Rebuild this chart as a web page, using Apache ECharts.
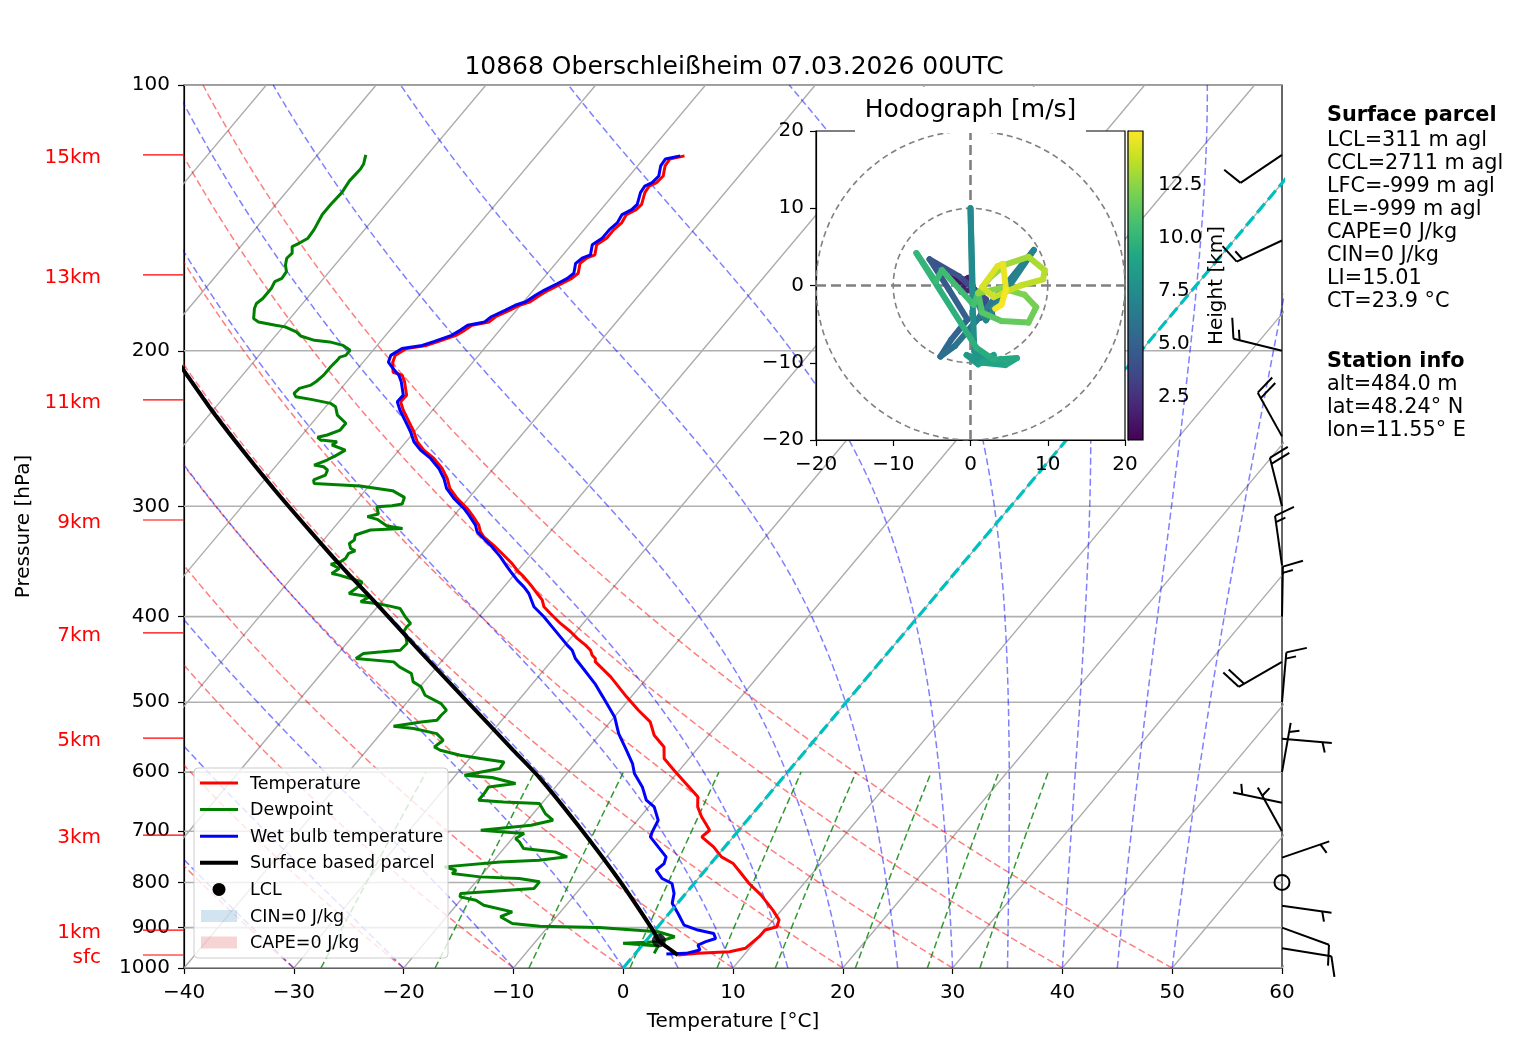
<!DOCTYPE html>
<html><head><meta charset="utf-8">
<script src="https://cdn.jsdelivr.net/npm/echarts@6/dist/echarts.min.js"></script>
<style>html,body{margin:0;padding:0;background:#fff}#c{width:1517px;height:1054px}</style>
</head><body><div id="c"></div>
<script>
// ---------------- data ----------------
const titleText = '10868 Oberschleißheim 07.03.2026 00UTC';
const pressureTicks = [100,200,300,400,500,600,700,800,900,1000];
const tempTicks = [-40,-30,-20,-10,0,10,20,30,40,50,60];

const tempP = [120.3,121.3,123.5,126.8,129.0,130.2,132.4,136.5,138.4,140.2,143.3,145.8,149.0,151.7,155.7,157.1,159.2,163.4,165.6,167.8,170.7,172.9,176.0,177.6,179.9,183.0,185.5,187.1,189.6,192.1,195.1,197.2,198.8,202.4,206.0,211.5,213.1,216.8,224.5,228.4,233.4,240.6,247.0,253.5,259.1,264.8,271.8,279.0,286.3,293.9,301.7,307.0,315.1,320.7,324.9,332.1,340.8,348.3,354.4,360.6,370.1,376.6,383.2,389.9,396.8,407.2,416.1,423.4,430.9,436.6,442.3,446.2,449.8,468.1,493.1,510.6,526.4,545.0,561.9,579.2,597.1,618.2,640.0,657.0,674.4,686.2,698.2,710.4,729.2,748.4,761.6,781.7,802.3,826.9,860.0,882.1,898.1,905.8,921.6,933.6,950.0,958.3,962.5,966.7];
const tempT = [-56.5,-57.6,-57.5,-56.9,-57.0,-57.4,-57.3,-56.7,-56.8,-57.3,-57.1,-57.3,-57.3,-57.7,-57.1,-57.6,-57.8,-57.2,-57.4,-57.9,-58.6,-59.0,-59.4,-60.1,-60.6,-61.4,-61.6,-62.9,-63.2,-63.6,-64.7,-65.5,-67.1,-67.6,-67.3,-66.5,-65.45,-64.73,-63.52,-63.56,-62.69,-61.28,-60.06,-58.99,-57.75,-56.19,-54.68,-53.45,-52.45,-51.02,-49.34,-48.37,-47.01,-46.34,-45.66,-44.11,-42.43,-41.04,-40.07,-38.95,-37.43,-36.46,-35.49,-34.83,-33.73,-32.05,-30.49,-29.38,-28.11,-27.27,-26.74,-26.19,-25.97,-23.39,-20.42,-18.32,-16.35,-14.97,-13.18,-12.28,-10.49,-8.39,-6.29,-5.53,-4.40,-3.53,-2.66,-2.87,-1.03,0.45,2.04,3.53,5.01,6.99,9.21,10.52,10.85,10.02,9.99,9.83,9.62,8.44,5.69,4.01];

const dewP = [120.0,122.9,124.5,128.4,132.4,136.5,140.2,145.8,149.1,151.0,152.4,155.0,157.1,159.9,162.7,165.6,167.0,169.9,174.5,176.8,179.1,183.9,185.5,187.1,187.9,190.4,192.4,194.6,195.4,197.2,199.7,202.4,203.3,204.9,208.5,213.1,216.8,218.7,220.6,223.5,225.4,227.0,229.4,231.4,236.5,241.6,245.9,249.1,250.6,252.4,253.5,255.7,259.1,262.5,265.9,269.4,270.6,272.9,276.5,280.1,282.6,284.5,288.0,293.1,298.2,299.5,300.3,306.1,308.2,310.4,315.8,317.8,319.1,323.3,327.6,330.5,334.8,336.9,339.2,343.7,346.7,348.8,352.8,357.5,359.0,362.2,365.3,368.5,376.6,379.9,384.9,386.5,389.2,391.6,400.2,407.2,410.8,416.1,421.7,429.0,436.6,438.5,440.4,446.2,450.1,456.0,464.0,474.2,480.4,491.0,501.8,510.6,517.3,524.1,526.4,532.4,535.6,542.7,552.2,561.9,566.8,574.2,579.2,584.3,594.5,604.9,608.6,618.2,623.6,634.5,645.6,648.5,651.3,668.5,680.2,689.1,698.2,704.3,713.5,719.7,732.4,738.8,748.4,755.0,758.3,768.2,774.9,781.7,788.5,791.9,798.8,812.8,823.5,830.7,837.9,848.9,863.8,874.9,890.4,896.6,899.6,909.7,921.6,933.6,937.7,944.2,962.5];
const dewT = [-85.6,-85.1,-85.0,-85.1,-84.9,-85.0,-85.0,-84.6,-84.5,-84.9,-85.3,-84.8,-84.9,-84.5,-83.9,-83.8,-84.2,-84.0,-84.0,-84.2,-84.0,-83.3,-82.6,-80.8,-79.8,-78.4,-77.7,-76.1,-74.6,-73.1,-72.1,-72.1,-72.5,-72.5,-72.6,-72.6,-72.8,-73.0,-73.8,-73.9,-73.5,-71.9,-69.8,-69.1,-68.3,-66.9,-66.9,-67.7,-68.4,-67.9,-66.3,-66.5,-64.9,-65.3,-65.8,-66.6,-65.6,-65.0,-64.8,-65.5,-65.2,-60.8,-57.5,-55.9,-55.6,-56.4,-57.7,-57.0,-57.8,-56.7,-55.3,-53.7,-56.5,-57.5,-57.2,-57.4,-56.9,-56.3,-56.7,-56.6,-56.8,-57.5,-56.4,-56.7,-55.9,-54.6,-53.3,-53.2,-53.6,-51.5,-51.9,-50.3,-48.9,-47.8,-46.7,-45.7,-45.8,-45.7,-45.1,-44.5,-44.6,-46.1,-47.7,-48.0,-44.3,-43.4,-41.8,-41.0,-39.9,-38.9,-36.8,-35.8,-35.9,-35.9,-37.2,-39.4,-37.4,-34.9,-33.8,-34.1,-33.3,-31.1,-29.0,-26.6,-26.5,-29.2,-26.5,-23.9,-26.1,-26.0,-26.0,-23.6,-20.2,-18.9,-17.7,-19.3,-23.5,-19.3,-19.7,-19.1,-18.2,-15.1,-13.6,-15.9,-19.3,-24.0,-22.7,-22.8,-20.0,-16.3,-14.2,-14.2,-20.5,-20.3,-18.6,-17.5,-14.4,-15.1,-13.5,-10.8,-5.3,0.4,2.3,1.2,-1.9,1.5,1.7];

const wbP = [120.3,121.3,123.5,126.8,129.0,130.2,132.4,136.5,138.4,140.2,143.3,145.8,149.0,151.7,155.7,157.1,159.2,163.4,165.6,167.8,170.7,172.9,176.0,177.6,179.9,183.0,185.5,187.1,189.6,192.1,195.1,197.2,198.8,202.4,206.0,209.4,213.1,216.8,224.5,228.4,233.4,240.6,247.0,253.5,259.1,264.8,271.8,279.0,286.3,293.9,301.7,307.0,315.1,320.7,324.9,333.5,342.3,351.3,357.5,363.7,370.1,376.6,389.9,400.2,410.8,421.7,430.9,436.6,446.2,457.9,476.3,493.1,519.6,542.7,566.8,586.8,602.3,623.6,645.6,657.0,680.2,701.2,710.4,729.2,748.4,761.6,774.9,791.9,802.3,823.5,844.9,867.6,894.1,905.8,913.8,925.9,933.6,941.8,954.2,962.5,964.1];
const wbT = [-56.9,-58.0,-57.9,-57.3,-57.4,-57.8,-57.7,-57.1,-57.2,-57.7,-57.5,-57.7,-57.7,-58.1,-57.5,-58.0,-58.2,-57.6,-57.8,-58.3,-59.0,-59.4,-59.8,-60.5,-61.0,-61.8,-62.0,-63.3,-63.6,-64.0,-65.1,-65.9,-67.5,-68.0,-67.7,-66.8,-65.75,-65.03,-63.82,-63.86,-62.99,-61.58,-60.36,-59.29,-58.05,-56.49,-54.98,-53.75,-52.75,-51.32,-49.64,-48.67,-47.31,-46.64,-45.81,-44.13,-42.61,-41.23,-40.27,-39.30,-38.18,-37.22,-35.74,-34.07,-32.55,-31.03,-29.78,-28.94,-28.01,-26.54,-24.32,-22.58,-19.97,-18.33,-16.34,-14.78,-13.84,-12.10,-10.72,-9.49,-8.11,-7.76,-7.55,-6.07,-4.59,-4.26,-4.47,-3.29,-2.01,-1.06,-0.48,0.83,2.26,3.90,5.60,6.16,5.51,5.05,5.61,4.61,2.86];

const parcelP = [202.0,213.1,233.4,259.1,287.5,320.7,351.3,383.1,436.6,497.3,566.8,607.5,692.0,795.0,905.8,931.0,966.7];
const parcelT = [-87.9,-85.05,-80.15,-74.28,-68.28,-61.79,-56.3,-50.9,-42.9,-34.8,-26.65,-22.3,-14.8,-7.1,-0.2,1.15,4.0];
const lclP = 931.0, lclT = 1.15;

const heightLabels = ['15km','13km','11km','9km','7km','5km','3km','1km','sfc'];
const heightP = [120.0,164.1,227.3,310.9,417.4,549.0,707.0,905.8,966.7];

const barbP   = [120,150,200,250,300,350,400,450,500,550,600,650,700,750,800,850,900,950];
const barbDir = [236,245,284,331,346,352,1,240,5,95,10,282,331,71,0,98,110,99];
const barbSpd = [10,15,15,20,20,15,15,20,15,5,5,5,5,5,0,5,10,10];

const hodoU = [-1.0,-2.6,-1.8,-0.3,-1.2,0.5,1.5,2.8,1.2,2.0,-1.5,-5.3,-2.8,-0.4,-2.5,-3.9,-2.0,0.8,4.5,8.2,2.0,0.3,0.0,0.2,0.5,2.0,-0.5,1.0,3.0,1.5,4.5,6.0,3.0,0.8,-7.0,-4.5,-3.7,0.4,1.0,1.5,4.0,7.5,8.5,7.0,4.0,1.0,2.5,4.5,7.5,9.6,9.4,6.5,3.0,1.5,3.5,4.2,4.6,4.0,3.2];
const hodoV = [0.8,1.4,0.2,1.0,-0.8,-0.5,-2.5,-3.8,-4.2,-1.8,1.2,3.4,-0.5,-4.4,-7.0,-9.2,-7.8,-4.5,0.0,4.6,-4.5,-1.0,10.0,0.0,-8.5,-9.8,-9.0,-10.2,-9.0,-10.0,-10.3,-9.4,-9.6,-8.1,4.2,0.5,2.0,-2.5,-1.0,-3.5,-4.6,-4.8,-2.8,-1.2,-0.3,-1.0,1.0,2.7,3.7,2.0,0.8,0.0,-1.5,-0.2,2.5,2.8,-0.5,-2.5,-3.0];
const hodoH = [0.48,0.8,1.1,1.4,1.8,2.1,2.5,2.9,3.3,3.6,4.0,4.3,4.7,5.0,5.3,5.6,5.9,6.2,6.5,6.8,7.0,7.1,7.3,7.5,7.8,8.0,8.2,8.4,8.6,8.8,9.0,9.2,9.4,9.6,9.9,10.2,10.4,10.6,10.8,11.1,11.4,11.7,11.9,12.1,12.3,12.5,12.7,12.9,13.1,13.3,13.5,13.7,13.9,14.1,14.3,14.5,14.7,14.9,15.0];
const cbarMin = 0.48, cbarMax = 15.05;
const cbarTicks = [2.5,5.0,7.5,10.0,12.5];

const infoLines = ['Surface parcel','LCL=311 m agl','CCL=2711 m agl','LFC=-999 m agl','EL=-999 m agl','CAPE=0 J/kg','CIN=0 J/kg','LI=15.01','CT=23.9 °C','Station info','alt=484.0 m','lat=48.24° N','lon=11.55° E'];
const infoBold = [true,false,false,false,false,false,false,false,false,true,false,false,false];
const infoY = [116,141,164,187,210,233,256,279,302,362,385,408,431];
const legendLabels = ['Temperature','Dewpoint','Wet bulb temperature','Surface based parcel','LCL','CIN=0 J/kg','CAPE=0 J/kg'];

// background thermodynamic reference lines (standard skew-T families)
const dryT0 = [-40,-30,-20,-10,0,10,20,30,40,50];
const moistT0 = [-40,-30,-20,-10,0,5,10,15,20,25,30,35,40,45,50];
const mixRatios = [0.0004,0.001,0.002,0.004,0.007,0.01,0.016,0.024,0.032];

// ---------------- construction ----------------
const SKEW = 67.5;
const FONT = '"DejaVu Sans", "Liberation Sans", sans-serif';
const lg = Math.log10;
const sk = (T, p) => [T + SKEW * (3 - lg(p)), lg(p)];
const minus = v => (v < 0 ? '\u2212' + Math.abs(v) : String(v));
const pairs = (P, T) => { const n = Math.min(P.length, T.length), o = []; for (let i = 0; i < n; i++) o.push(sk(T[i], P[i])); return o; };

const series = [];
function addLine(pts, color, width, dash, z) {
  series.push({ type: 'line', xAxisIndex: 0, yAxisIndex: 0, data: pts, showSymbol: false, symbol: 'none',
    silent: true, clip: true, z: z, animation: false, lineStyle: { color: color, width: width, type: dash || 'solid', cap: 'butt' } });
}
const pGrid = []; for (let i = 0; i <= 90; i++) pGrid.push(1000 * Math.pow(10, -i / 90));

pressureTicks.forEach(p => addLine([[-40, lg(p)], [60, lg(p)]], '#b0b0b0', 1.6, 'solid', 1));
for (let T = -110; T <= 60; T += 10) addLine([sk(T, 1000), sk(T, 100)], '#ababab', 1.3, 'solid', 1);
dryT0.forEach(t0 => addLine(pGrid.map(p => sk((t0 + 273.15) * Math.pow(p / 1000, 0.2857) - 273.15, p)), 'rgba(255,0,0,0.5)', 1.5, [7, 3.5], 1));
function moist(t0) {
  const Rd = 287.04749, Cp = 1004.6662, Lv = 2.50084e6, eps = 0.6219569;
  const es = T => 6.112 * Math.exp(17.67 * (T - 273.15) / (T - 29.65));
  const g = (l, T) => { const p = Math.exp(l), e = es(T), rs = eps * e / (p - e); return (Rd * T + Lv * rs) / (Cp + Lv * Lv * rs * eps / (Rd * T * T)); };
  const n = 150, l0 = Math.log(1000), l1 = Math.log(100), h = (l1 - l0) / n;
  let T = t0 + 273.15, l = l0; const out = [sk(t0, 1000)];
  for (let i = 0; i < n; i++) {
    const k1 = g(l, T), k2 = g(l + h / 2, T + h * k1 / 2), k3 = g(l + h / 2, T + h * k2 / 2), k4 = g(l + h, T + h * k3);
    T += h * (k1 + 2 * k2 + 2 * k3 + k4) / 6; l += h;
    out.push(sk(T - 273.15, Math.exp(l)));
  }
  return out;
}
moistT0.forEach(t0 => addLine(moist(t0), 'rgba(0,0,255,0.5)', 1.5, [7, 3.5], 1));
mixRatios.forEach(w => {
  const pts = [];
  for (let i = 0; i <= 20; i++) {
    const p = 1000 - i * 20, e = p * w / (0.6219569 + w), a = Math.log(e / 6.112);
    pts.push(sk(243.5 * a / (17.67 - a), p));
  }
  addLine(pts, 'rgba(0,128,0,0.8)', 1.5, [7, 3.5], 1);
});

addLine(pairs(tempP, tempT), '#ff0000', 3, 'solid', 3);
addLine(pairs(dewP, dewT), '#008000', 3, 'solid', 3);
addLine(pairs(wbP, wbT), '#0000ff', 3, 'solid', 3);
addLine([sk(0, 1000), sk(0, 100)], '#00bfbf', 3.2, [12, 5], 4);
series.push({ type: 'line', xAxisIndex: 0, yAxisIndex: 0, data: pairs(parcelP, parcelT), showSymbol: false, symbol: 'none',
  silent: true, clip: true, z: 5, animation: false, smooth: 0.2, lineStyle: { color: '#000', width: 4 } });
series.push({ type: 'scatter', xAxisIndex: 0, yAxisIndex: 0, data: [sk(lclT, lclP)], symbol: 'circle', symbolSize: 14,
  itemStyle: { color: '#000' }, z: 6, silent: true, animation: false });

series.push({ type: 'custom', xAxisIndex: 0, yAxisIndex: 0, clip: false, silent: true, animation: false, z: 6,
  data: heightP.map(p => [-40, lg(p)]),
  renderItem: (params, api) => {
    const pt = api.coord([api.value(0), api.value(1)]);
    return { type: 'group', children: [
      { type: 'line', shape: { x1: pt[0] - 41, y1: pt[1], x2: pt[0], y2: pt[1] }, style: { stroke: '#ff0000', lineWidth: 1.2 } },
      { type: 'text', style: { text: heightLabels[params.dataIndex], x: pt[0] - 83, y: pt[1] + 3, align: 'right', verticalAlign: 'middle',
        fill: '#ff0000', fontSize: 20, fontFamily: FONT } }
    ] };
  } });

series.push({ type: 'custom', xAxisIndex: 0, yAxisIndex: 0, clip: false, silent: true, animation: false, z: 6,
  data: barbP.map((p, i) => [lg(p), barbDir[i], barbSpd[i]]),
  renderItem: (params, api) => {
    const b = api.coord([60, api.value(0)]), dir = api.value(1), spd = api.value(2);
    const L = 50, sp = 0.125 * L, fh = 0.4 * L, fw = 0.25 * L;
    const st = { stroke: '#000', lineWidth: 2, fill: null };
    if (spd < 2.5) return { type: 'circle', shape: { cx: b[0], cy: b[1], r: 0.15 * L }, style: { stroke: '#000', lineWidth: 2, fill: 'rgba(0,0,0,0)' } };
    const rad = dir * Math.PI / 180, sx = Math.sin(rad), sy = -Math.cos(rad), rx = -sy, ry = sx;
    const P = d => [b[0] + sx * d, b[1] + sy * d];
    const tip = P(L);
    const ch = [{ type: 'line', shape: { x1: b[0], y1: b[1], x2: tip[0], y2: tip[1] }, style: st }];
    let n = Math.round(spd / 5) * 5;
    const flags = Math.floor(n / 50); n -= flags * 50;
    const fulls = Math.floor(n / 10); n -= fulls * 10;
    const half = n >= 5;
    let off = L;
    for (let i = 0; i < flags; i++) {
      const a = P(off), m = P(off - fw / 2), c = P(off - fw);
      ch.push({ type: 'polygon', shape: { points: [a, [m[0] + rx * fh, m[1] + ry * fh], c] }, style: { fill: '#000', stroke: '#000', lineWidth: 1 } });
      off -= fw + sp;
    }
    for (let i = 0; i < fulls; i++) {
      const a = P(off);
      ch.push({ type: 'line', shape: { x1: a[0], y1: a[1], x2: a[0] + rx * fh + sx * fw / 2, y2: a[1] + ry * fh + sy * fw / 2 }, style: st });
      off -= sp;
    }
    if (half) {
      if (off === L) off -= 1.5 * sp;
      const a = P(off);
      ch.push({ type: 'line', shape: { x1: a[0], y1: a[1], x2: a[0] + rx * fh / 2 + sx * fw / 4, y2: a[1] + ry * fh / 2 + sy * fw / 4 }, style: st });
    }
    return { type: 'group', children: ch };
  } });

// ---------------- hodograph ----------------
const circ = r => { const o = []; for (let a = 0; a <= 360; a += 3) o.push([r * Math.cos(a * Math.PI / 180), r * Math.sin(a * Math.PI / 180)]); return o; };
function hodoLine(pts, width, dash) {
  series.push({ type: 'line', xAxisIndex: 1, yAxisIndex: 1, zlevel: 1, z: 3, data: pts, showSymbol: false, symbol: 'none', silent: true,
    animation: false, clip: true, lineStyle: { color: '#808080', width: width, type: dash } });
}
hodoLine(circ(10), 1.6, [6, 4]);
hodoLine(circ(20), 1.6, [6, 4]);
hodoLine([[-20, 0], [20, 0]], 2.6, [10, 5]);
hodoLine([[0, -20], [0, 20]], 2.6, [10, 5]);

const VIR = ['#440154','#482475','#414487','#355f8d','#2a788e','#21918c','#22a884','#44bf70','#7ad151','#bddf26','#fde725'];
const hex = h => [parseInt(h.slice(1, 3), 16), parseInt(h.slice(3, 5), 16), parseInt(h.slice(5, 7), 16)];
function viridis(t) {
  t = Math.max(0, Math.min(1, t));
  const x = t * (VIR.length - 1), i = Math.min(Math.floor(x), VIR.length - 2), f = x - i;
  const a = hex(VIR[i]), b = hex(VIR[i + 1]);
  return 'rgb(' + a.map((v, k) => Math.round(v + (b[k] - v) * f)).join(',') + ')';
}
const hodoSeg = [];
for (let i = 0; i + 1 < Math.min(hodoU.length, hodoV.length, hodoH.length); i++)
  hodoSeg.push([hodoU[i], hodoV[i], hodoU[i + 1], hodoV[i + 1], (hodoH[i] + hodoH[i + 1]) / 2]);
series.push({ type: 'custom', xAxisIndex: 1, yAxisIndex: 1, zlevel: 1, z: 4, silent: true, animation: false,
  encode: { x: [0, 2], y: [1, 3] }, data: hodoSeg,
  renderItem: (params, api) => {
    const a = api.coord([api.value(0), api.value(1)]), b = api.coord([api.value(2), api.value(3)]);
    return { type: 'line', shape: { x1: a[0], y1: a[1], x2: b[0], y2: b[1] },
      style: { stroke: viridis((api.value(4) - cbarMin) / (cbarMax - cbarMin)), lineWidth: 6, lineCap: 'round' } };
  } });

series.push({ type: 'custom', xAxisIndex: 2, yAxisIndex: 2, zlevel: 1, z: 3, silent: true, animation: false,
  encode: { x: [0, 2], y: [1, 3] }, data: [[0, cbarMax, 1, cbarMin]],
  renderItem: (params, api) => {
    const a = api.coord([api.value(0), api.value(1)]), b = api.coord([api.value(2), api.value(3)]);
    return { type: 'rect', shape: { x: a[0], y: a[1], width: b[0] - a[0], height: b[1] - a[1] },
      style: { fill: new echarts.graphic.LinearGradient(0, 1, 0, 0, VIR.map((c, i) => ({ offset: i / (VIR.length - 1), color: c }))) } };
  } });

// ---------------- graphics (title, texts, legend) ----------------
const graphic = [];
graphic.push({ type: 'text', x: 734, y: 67, z: 50, style: { text: titleText, x: 0, y: 0, align: 'center', verticalAlign: 'middle', fill: '#000', fontSize: 25, fontFamily: FONT } });
graphic.push({ type: 'rect', zlevel: 1, z: 20, shape: { x: 855, y: 87, width: 231, height: 46 }, style: { fill: '#fff' } });
graphic.push({ type: 'text', zlevel: 1, z: 21, x: 970.5, y: 110, style: { text: 'Hodograph [m/s]', x: 0, y: 0, align: 'center', verticalAlign: 'middle', fill: '#000', fontSize: 25, fontFamily: FONT } });
infoLines.forEach((ln, i) => {
  graphic.push({ type: 'text', x: 1327, y: infoY[i], z: 50, style: { text: ln, x: 0, y: 0, align: 'left', verticalAlign: 'middle', fill: '#000',
    fontSize: 20.8, fontWeight: infoBold[i] ? 'bold' : 'normal', fontFamily: FONT } });
});
graphic.push({ type: 'rect', z: 100, shape: { x: 194, y: 768, width: 254, height: 190, r: 4 }, style: { fill: 'rgba(255,255,255,0.8)', stroke: '#cccccc', lineWidth: 1 } });
const legColors = ['#ff0000', '#008000', '#0000ff', '#000000'];
legendLabels.forEach((lab, i) => {
  const y = 783 + i * 26.6;
  if (i < 4) graphic.push({ type: 'line', z: 101, shape: { x1: 200, y1: y, x2: 238, y2: y }, style: { stroke: legColors[i], lineWidth: i === 3 ? 4 : 3 } });
  else if (i === 4) graphic.push({ type: 'circle', z: 101, shape: { cx: 219, cy: y, r: 6.5 }, style: { fill: '#000' } });
  else graphic.push({ type: 'rect', z: 101, shape: { x: 201, y: y - 6, width: 36, height: 12 }, style: { fill: i === 5 ? 'rgba(31,119,180,0.2)' : 'rgba(214,39,40,0.2)' } });
  graphic.push({ type: 'text', z: 101, x: 250, y: y + 1, style: { text: lab, x: 0, y: 0, align: 'left', verticalAlign: 'middle', fill: '#000', fontSize: 17.5, fontFamily: FONT } });
});

// ---------------- option ----------------
const axisTxt = { fontSize: 20, color: '#000', fontFamily: FONT };
const option = {
  backgroundColor: '#fff', animation: false, textStyle: { fontFamily: FONT },
  grid: [
    { left: 184, top: 85, width: 1098, height: 883, show: true, borderColor: '#000', borderWidth: 1.2, backgroundColor: 'rgba(0,0,0,0)' },
    { left: 816, top: 131, width: 309, height: 309, show: true, borderColor: '#000', borderWidth: 1.2, backgroundColor: '#fff', zlevel: 1 },
    { left: 1128, top: 131, width: 15, height: 309, show: true, borderColor: '#000', borderWidth: 1.2, backgroundColor: 'rgba(0,0,0,0)', zlevel: 1, z: 5 }
  ],
  xAxis: [
    { type: 'value', gridIndex: 0, min: -40, max: 60, interval: 10,
      axisLine: { show: true, onZero: false, lineStyle: { color: '#000', width: 1.2 } },
      axisTick: { show: true, length: 6, lineStyle: { color: '#000', width: 1.2 } },
      axisLabel: Object.assign({ margin: 15, formatter: minus, customValues: tempTicks }, axisTxt), splitLine: { show: false },
      name: 'Temperature [°C]', nameLocation: 'middle', nameGap: 44, nameTextStyle: axisTxt },
    { type: 'value', gridIndex: 1, min: -20, max: 20, interval: 10, zlevel: 1,
      axisLine: { show: true, onZero: false, lineStyle: { color: '#000', width: 1.2 } },
      axisTick: { show: true, length: 6, lineStyle: { color: '#000', width: 1.2 } },
      axisLabel: Object.assign({ margin: 15, formatter: minus }, axisTxt), splitLine: { show: false } },
    { type: 'value', gridIndex: 2, min: 0, max: 1, show: false, zlevel: 1 }
  ],
  yAxis: [
    { type: 'value', gridIndex: 0, min: 2, max: 3, inverse: true,
      axisLine: { show: true, onZero: false, lineStyle: { color: '#000', width: 1.2 } },
      axisTick: { show: true, length: 6, customValues: pressureTicks.map(lg), lineStyle: { color: '#000', width: 1.2 } },
      axisLabel: Object.assign({ margin: 14, padding: [8, 0, 0, 0], customValues: pressureTicks.map(lg), formatter: v => String(Math.round(Math.pow(10, v))) }, axisTxt),
      splitLine: { show: false },
      name: 'Pressure [hPa]', nameLocation: 'middle', nameGap: 150, nameRotate: 90, nameTextStyle: axisTxt },
    { type: 'value', gridIndex: 1, min: -20, max: 20, interval: 10, zlevel: 1,
      axisLine: { show: true, onZero: false, lineStyle: { color: '#000', width: 1.2 } },
      axisTick: { show: true, length: 6, lineStyle: { color: '#000', width: 1.2 } },
      axisLabel: Object.assign({ margin: 12, padding: [5, 0, 0, 0], formatter: minus }, axisTxt), splitLine: { show: false } },
    { type: 'value', gridIndex: 2, min: cbarMin, max: cbarMax, position: 'right', zlevel: 1,
      axisLine: { show: true, lineStyle: { color: '#000', width: 1.2 } },
      axisTick: { show: true, length: 6, customValues: cbarTicks, lineStyle: { color: '#000', width: 1.2 } },
      axisLabel: Object.assign({ margin: 15, padding: [5, 0, 0, 0], customValues: cbarTicks, formatter: v => Number(v).toFixed(1) }, axisTxt),
      splitLine: { show: false },
      name: 'Height [km]', nameLocation: 'middle', nameGap: 53, nameRotate: 90, nameTextStyle: axisTxt }
  ],
  series: series,
  graphic: graphic
};
const chart = echarts.init(document.getElementById('c'), null, { renderer: 'canvas' });
chart.setOption(option);
</script></body></html>
